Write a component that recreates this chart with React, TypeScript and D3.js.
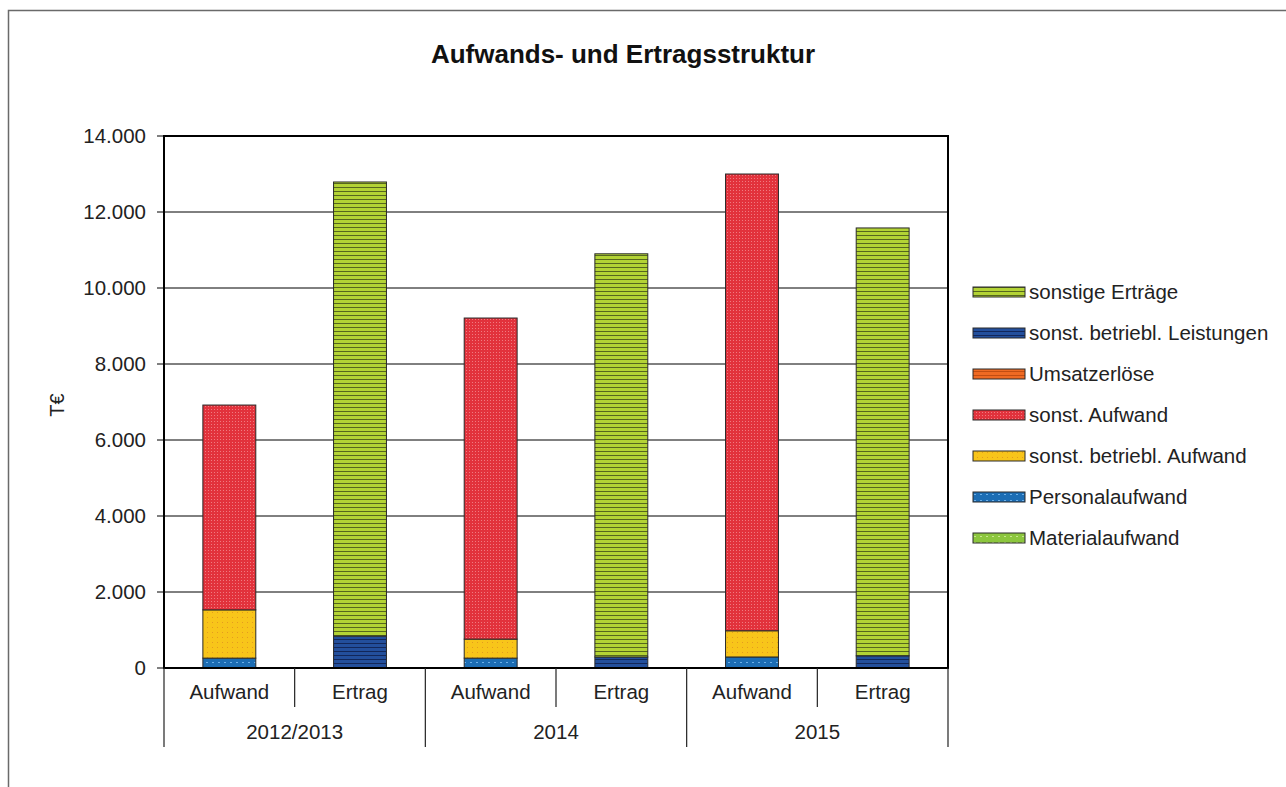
import React from "react";
import * as d3 from "d3";

const groups = ["2012/2013", "2014", "2015"];
const kinds = ["Aufwand", "Ertrag"];
const categories = ["2012/2013 Aufwand", "2012/2013 Ertrag", "2014 Aufwand", "2014 Ertrag", "2015 Aufwand", "2015 Ertrag"];

const materialaufwand = [0, 0, 0, 0, 0, 0];
const personalaufwand = [260, 0, 260, 0, 290, 0];
const sonstBetrAufwand = [1270, 0, 500, 0, 690, 0];
const sonstAufwand = [5390, 0, 8450, 0, 12020, 0];
const umsatzerloese = [0, 0, 0, 0, 0, 0];
const sonstBetrLeistungen = [0, 840, 0, 290, 0, 320];
const sonstigeErtraege = [0, 11950, 0, 10610, 0, 11260];

const yTicks = [0, 2000, 4000, 6000, 8000, 10000, 12000, 14000];

const seriesDefs = [
  { key: "Materialaufwand", values: materialaufwand, pat: "pMat" },
  { key: "Personalaufwand", values: personalaufwand, pat: "pPers" },
  { key: "sonst. betriebl. Aufwand", values: sonstBetrAufwand, pat: "pYel" },
  { key: "sonst. Aufwand", values: sonstAufwand, pat: "pRed" },
  { key: "Umsatzerlöse", values: umsatzerloese, pat: "pOra" },
  { key: "sonst. betriebl. Leistungen", values: sonstBetrLeistungen, pat: "pNavy" },
  { key: "sonstige Erträge", values: sonstigeErtraege, pat: "pGreen" },
];

const W = 1286, H = 787;
const L = 164, R = 948, T = 136, B = 668;
const FONT = "'Liberation Sans', Arial, sans-serif";

const de = d3.formatLocale({ decimal: ",", thousands: ".", grouping: [3], currency: ["", "€"] });
const fmt = de.format(",.0f");

export default function App() {
  const x = d3.scaleBand<string>().domain(categories).range([L, R]).paddingInner(0.595).paddingOuter(0.2975);
  const y = d3.scaleLinear().domain([0, 14000]).range([B, T]);
  const step = x.step();

  const table = categories.map((c, i) => {
    const o: any = { cat: c };
    seriesDefs.forEach((s) => (o[s.key] = s.values[i]));
    return o;
  });
  const stack = d3.stack<any>().keys(seriesDefs.map((s) => s.key));
  const stacked = stack(table);

  const legendItems = [...seriesDefs].reverse();

  return (
    <svg width={W} height={H} style={{ position: "absolute", left: 0, top: 0, background: "#fff" }} fontFamily={FONT}>
      <defs>
        <pattern id="pGreen" width="8" height="4" patternUnits="userSpaceOnUse">
          <rect width="8" height="4" fill="#b3d335" />
          <rect y="3" width="8" height="1" fill="#56661e" />
        </pattern>
        <pattern id="pNavy" width="8" height="4" patternUnits="userSpaceOnUse">
          <rect width="8" height="4" fill="#234f9c" />
          <rect y="3" width="8" height="1" fill="#12275a" />
        </pattern>
        <pattern id="pOra" width="8" height="4" patternUnits="userSpaceOnUse">
          <rect width="8" height="4" fill="#ef6a23" />
          <rect y="3" width="8" height="1" fill="#c24d12" />
        </pattern>
        <pattern id="pRed" width="3" height="3" patternUnits="userSpaceOnUse">
          <rect width="3" height="3" fill="#e2323c" />
          <rect x="1" y="1" width="1" height="1" fill="#f07a80" />
        </pattern>
        <pattern id="pYel" width="5" height="5" patternUnits="userSpaceOnUse">
          <rect width="5" height="5" fill="#f8c51a" />
          <rect x="2" y="2" width="1" height="1" fill="#e49a20" />
        </pattern>
        <pattern id="pPers" width="6" height="6" patternUnits="userSpaceOnUse">
          <rect width="6" height="6" fill="#1c6db4" />
          <rect x="2" y="2" width="2" height="1" fill="#6db0e8" />
        </pattern>
        <pattern id="pMat" width="6" height="6" patternUnits="userSpaceOnUse">
          <rect width="6" height="6" fill="#8cc63e" />
          <rect x="2" y="2" width="2" height="1" fill="#c9e68f" />
        </pattern>
      </defs>

      <rect x={8.5} y={10.5} width={1400} height={900} fill="#fff" stroke="#6a6a6a" strokeWidth={1.5} />

      <text x={623} y={63} textAnchor="middle" fontSize={26} fontWeight="bold" fill="#111">
        Aufwands- und Ertragsstruktur
      </text>

      {/* grid */}
      {yTicks.map((t) => (
        <g key={t}>
          <line x1={L} x2={R} y1={y(t)} y2={y(t)} stroke="#000" strokeWidth={1} />
          <line x1={L - 7} x2={L} y1={y(t)} y2={y(t)} stroke="#000" strokeWidth={1} />
          <text x={146} y={y(t) + 7} textAnchor="end" fontSize={20.5} fill="#222">
            {fmt(t)}
          </text>
        </g>
      ))}

      <text transform={`translate(64,405) rotate(-90)`} textAnchor="middle" fontSize={20} fill="#222">
        T€
      </text>

      {/* bars */}
      {stacked.map((layer, si) => (
        <g key={layer.key}>
          {layer.map((d, i) => {
            const h = y(d[0]) - y(d[1]);
            if (h <= 0) return null;
            return (
              <rect
                key={i}
                x={x(categories[i])}
                y={y(d[1])}
                width={x.bandwidth()}
                height={h}
                fill={`url(#${seriesDefs[si].pat})`}
                stroke="#2a2a2a"
                strokeWidth={1}
              />
            );
          })}
        </g>
      ))}

      {/* frame */}
      <rect x={L} y={T} width={R - L} height={B - T} fill="none" stroke="#000" strokeWidth={2} />

      {/* x axis */}
      {d3.range(categories.length + 1).map((k) => {
        const xx = L + k * step;
        const long = k % 2 === 0;
        return <line key={k} x1={xx} x2={xx} y1={B} y2={long ? 747 : 707} stroke="#222" strokeWidth={1.2} />;
      })}
      {categories.map((c, i) => (
        <text key={c} x={(x(c) as number) + x.bandwidth() / 2} y={699} textAnchor="middle" fontSize={20.5} fill="#222">
          {kinds[i % 2]}
        </text>
      ))}
      {groups.map((g, gi) => (
        <text key={g} x={L + (gi * 2 + 1) * step} y={739} textAnchor="middle" fontSize={20.5} fill="#222">
          {g}
        </text>
      ))}

      {/* legend */}
      {legendItems.map((s, i) => {
        const cy = 292 + i * 41;
        return (
          <g key={s.key}>
            <rect x={973} y={cy - 5} width={52} height={10} fill={`url(#${s.pat})`} stroke="#2a2a2a" strokeWidth={1} />
            <text x={1029} y={cy + 7} fontSize={20.5} fill="#222">
              {s.key}
            </text>
          </g>
        );
      })}
    </svg>
  );
}
